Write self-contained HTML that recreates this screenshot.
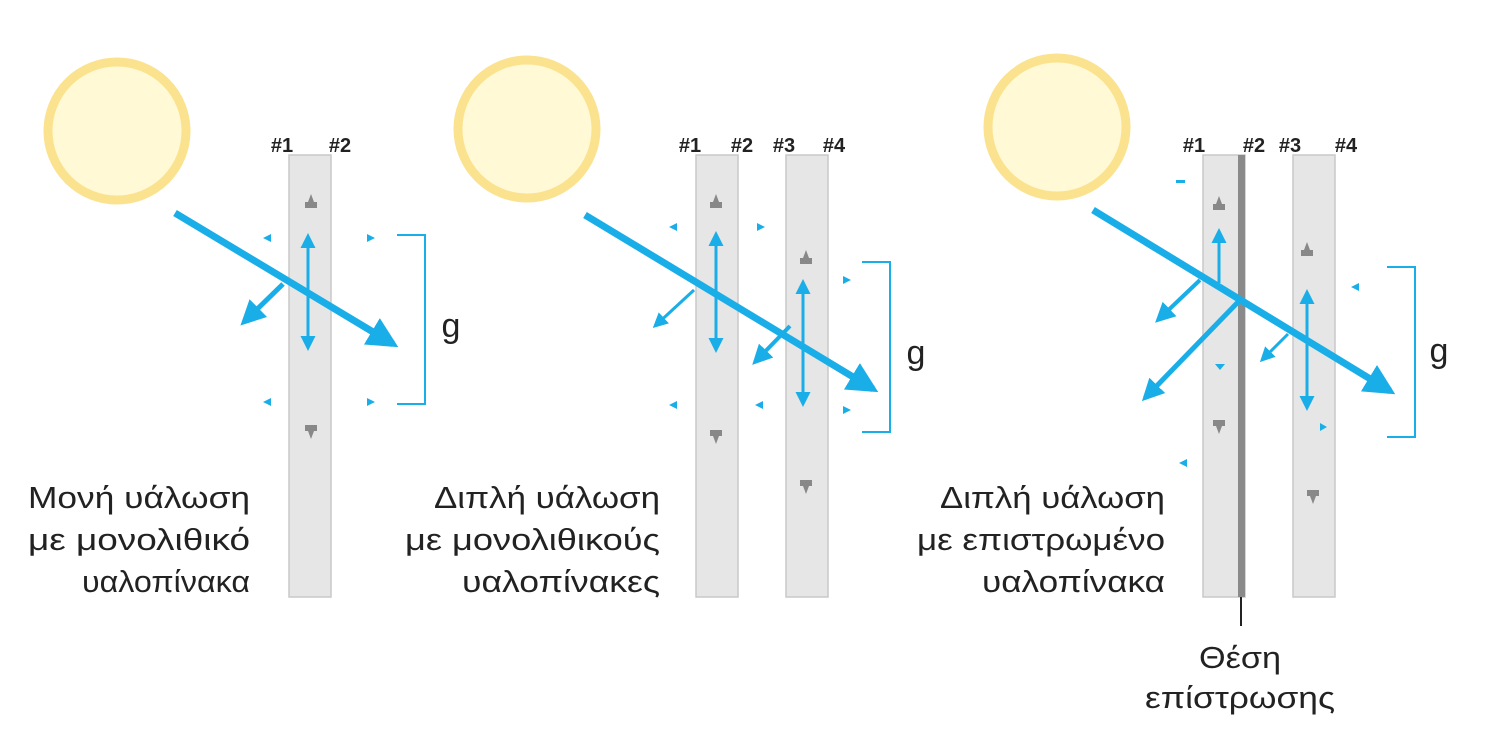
<!DOCTYPE html>
<html><head><meta charset="utf-8"><style>
html,body{margin:0;padding:0;background:#fff;}
svg{display:block;}
text{font-family:"Liberation Sans","DejaVu Sans",sans-serif;fill:#222;}
</style></head><body>
<svg width="1500" height="746" viewBox="0 0 1500 746" xmlns="http://www.w3.org/2000/svg">
<defs>
<marker id="ah" viewBox="0 0 10 10" refX="8" refY="5" markerWidth="4.4" markerHeight="4.4" orient="auto-start-reverse"><path d="M0,0 L10,5 L0,10 z" fill="#1aaee8"/></marker>
<marker id="as" viewBox="0 0 10 10" refX="8" refY="5" markerWidth="5" markerHeight="5" orient="auto-start-reverse"><path d="M0,0 L10,5 L0,10 z" fill="#1aaee8"/></marker>
</defs>
<g fill="#fff9d6" stroke="#fbe28e" stroke-width="9">
<circle cx="117" cy="131" r="69"/>
<circle cx="527" cy="129" r="69"/>
<circle cx="1057" cy="127" r="69"/>
</g>
<g fill="#e6e6e6" stroke="#c8c8c8" stroke-width="1.5">
<rect x="289" y="155" width="42" height="442"/>
<rect x="696" y="155" width="42" height="442"/>
<rect x="786" y="155" width="42" height="442"/>
<rect x="1203" y="155" width="42" height="442"/>
<rect x="1293" y="155" width="42" height="442"/>
</g>
<rect x="1238" y="155" width="7" height="442" fill="#8a8a8a"/>
<line x1="1241" y1="597" x2="1241" y2="626" stroke="#222" stroke-width="2"/>
<g font-size="20" font-weight="bold" text-anchor="middle">
<text x="282" y="152">#1</text><text x="340" y="152">#2</text>
<text x="690" y="152">#1</text><text x="742" y="152">#2</text><text x="784" y="152">#3</text><text x="834" y="152">#4</text>
<text x="1194" y="152">#1</text><text x="1254" y="152">#2</text><text x="1290" y="152">#3</text><text x="1346" y="152">#4</text>
</g>
<g fill="#888">
<path d="M305,208 h12 v-6 h-3 l-3,-8 -3,8 h-3z"/>
<path d="M305,425 h12 v6 h-3 l-3,8 -3,-8 h-3z"/>
<path d="M710,208 h12 v-6 h-3 l-3,-8 -3,8 h-3z"/>
<path d="M710,430 h12 v6 h-3 l-3,8 -3,-8 h-3z"/>
<path d="M800,264 h12 v-6 h-3 l-3,-8 -3,8 h-3z"/>
<path d="M800,480 h12 v6 h-3 l-3,8 -3,-8 h-3z"/>
<path d="M1213,210 h12 v-6 h-3 l-3,-8 -3,8 h-3z"/>
<path d="M1213,420 h12 v6 h-3 l-3,8 -3,-8 h-3z"/>
<path d="M1301,256 h12 v-6 h-3 l-3,-8 -3,8 h-3z"/>
<path d="M1307,490 h12 v6 h-3 l-3,8 -3,-8 h-3z"/>
</g>
<g stroke="#1aaee8" fill="none" stroke-linecap="butt">
<line x1="175" y1="213" x2="393" y2="344" stroke-width="7" marker-end="url(#ah)"/>
<line x1="283" y1="284" x2="244" y2="322" stroke-width="5" marker-end="url(#as)"/>
<line x1="308" y1="236" x2="308" y2="348" stroke-width="3" marker-start="url(#as)" marker-end="url(#as)"/>
<path d="M397,235 H425 V404 H397" stroke-width="2"/>
<line x1="585" y1="215" x2="873" y2="389" stroke-width="7" marker-end="url(#ah)"/>
<line x1="694" y1="290" x2="655" y2="326" stroke-width="3" marker-end="url(#as)"/>
<line x1="790" y1="326" x2="755" y2="362" stroke-width="4" marker-end="url(#as)"/>
<line x1="716" y1="234" x2="716" y2="350" stroke-width="3" marker-start="url(#as)" marker-end="url(#as)"/>
<line x1="803" y1="282" x2="803" y2="404" stroke-width="3" marker-start="url(#as)" marker-end="url(#as)"/>
<path d="M862,262 H890 V432 H862" stroke-width="2"/>
<line x1="1093" y1="210" x2="1390" y2="391" stroke-width="7" marker-end="url(#ah)"/>
<line x1="1200" y1="280" x2="1158" y2="320" stroke-width="4" marker-end="url(#as)"/>
<line x1="1240" y1="300" x2="1145" y2="398" stroke-width="5" marker-end="url(#ah)"/>
<line x1="1288" y1="334" x2="1262" y2="360" stroke-width="3" marker-end="url(#as)"/>
<line x1="1219" y1="231" x2="1219" y2="283" stroke-width="3" marker-start="url(#as)"/>
<line x1="1307" y1="292" x2="1307" y2="408" stroke-width="3" marker-start="url(#as)" marker-end="url(#as)"/>
<path d="M1387,267 H1415 V437 H1387" stroke-width="2"/>
</g>
<g fill="#1aaee8">
<path d="M263,238 l8,-4 v8z"/><path d="M375,238 l-8,-4 v8z"/>
<path d="M263,402 l8,-4 v8z"/><path d="M375,402 l-8,-4 v8z"/>
<path d="M669,227 l8,-4 v8z"/><path d="M765,227 l-8,-4 v8z"/>
<path d="M669,405 l8,-4 v8z"/><path d="M755,405 l8,-4 v8z"/>
<path d="M851,280 l-8,-4 v8z"/><path d="M851,410 l-8,-4 v8z"/>
<path d="M1176,180 h9 v3 h-9z"/><path d="M1179,463 l8,-4 v8z"/>
<path d="M1220,370 l-5,-6 h10z"/><path d="M1351,287 l8,-4 v8z"/>
<path d="M1327,427 l-7,-4 v8z"/>
</g>
<g font-size="34" text-anchor="middle"><text x="451" y="337">g</text><text x="916" y="364">g</text><text x="1439" y="362">g</text></g>
<g font-size="31" text-anchor="end">
<text x="250" y="508" textLength="222" lengthAdjust="spacingAndGlyphs">Μονή υάλωση</text>
<text x="250" y="550" textLength="222" lengthAdjust="spacingAndGlyphs">με μονολιθικό</text>
<text x="250" y="592" textLength="168" lengthAdjust="spacingAndGlyphs">υαλοπίνακα</text>
<text x="660" y="508" textLength="226" lengthAdjust="spacingAndGlyphs">Διπλή υάλωση</text>
<text x="660" y="550" textLength="255" lengthAdjust="spacingAndGlyphs">με μονολιθικούς</text>
<text x="660" y="592" textLength="198" lengthAdjust="spacingAndGlyphs">υαλοπίνακες</text>
<text x="1165" y="508" textLength="225" lengthAdjust="spacingAndGlyphs">Διπλή υάλωση</text>
<text x="1165" y="550" textLength="248" lengthAdjust="spacingAndGlyphs">με επιστρωμένο</text>
<text x="1165" y="592" textLength="183" lengthAdjust="spacingAndGlyphs">υαλοπίνακα</text>
</g>
<g font-size="31" text-anchor="middle">
<text x="1240" y="668" textLength="82" lengthAdjust="spacingAndGlyphs">Θέση</text>
<text x="1240" y="708" textLength="190" lengthAdjust="spacingAndGlyphs">επίστρωσης</text>
</g>
</svg>
</body></html>
